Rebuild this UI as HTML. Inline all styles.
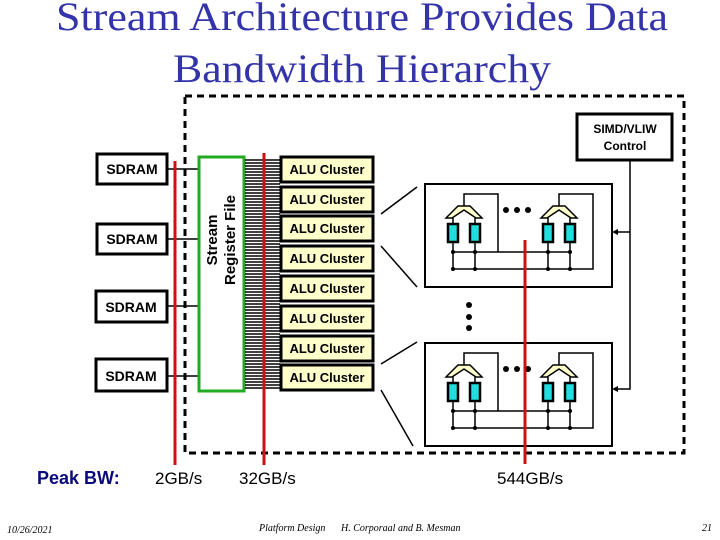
<!DOCTYPE html>
<html><head><meta charset="utf-8"><style>
html,body{margin:0;padding:0;background:#fff;}
svg{display:block;}
</style></head><body>
<svg width="720" height="540" viewBox="0 0 720 540" xmlns="http://www.w3.org/2000/svg">
<rect width="720" height="540" fill="#fff"/>
<g font-family="Liberation Serif, serif" fill="#3333aa" font-size="40">
<text x="362" y="30" text-anchor="middle" textLength="612" lengthAdjust="spacingAndGlyphs">Stream Architecture Provides Data</text>
<text x="362" y="82" text-anchor="middle" textLength="378" lengthAdjust="spacingAndGlyphs">Bandwidth Hierarchy</text>
</g>
<path d="M185 96 H684 V453 H185 Z" fill="none" stroke="#000" stroke-width="3" stroke-dasharray="7,5"/>
<rect x="577" y="114" width="95" height="46" fill="#fff" stroke="#000" stroke-width="3"/>
<g font-family="Liberation Sans, sans-serif" font-size="12" text-anchor="middle" font-weight="bold">
<text x="625" y="133">SIMD/VLIW</text><text x="625" y="150">Control</text></g>
<path d="M630 160 V389 H614 M630 232 H614" fill="none" stroke="#000" stroke-width="1.5"/>
<path d="M612 232 l6 -3 v6z M612 389 l6 -3 v6z" fill="#000"/>
<g stroke="#000" stroke-width="3" fill="#fff">
<rect x="97" y="154" width="70" height="30"/>
<rect x="97" y="224" width="70" height="30"/>
<rect x="96" y="291" width="71" height="31"/>
<rect x="96" y="359" width="71" height="32"/>
</g>
<g font-family="Liberation Sans, sans-serif" font-size="14" font-weight="bold" text-anchor="middle">
<text x="132" y="174">SDRAM</text><text x="132" y="244">SDRAM</text><text x="131" y="312">SDRAM</text><text x="131" y="381">SDRAM</text></g>
<path d="M167 169 H198 M167 239 H198 M167 306 H198 M167 376 H198" stroke="#000" stroke-width="1.5"/>
<rect x="199" y="157" width="45" height="234" fill="#fff" stroke="#22aa22" stroke-width="3"/>
<g font-family="Liberation Sans, sans-serif" font-size="15" font-weight="bold" text-anchor="middle" transform="translate(221,240) rotate(-90)">
<text x="0" y="-4">Stream</text><text x="0" y="14">Register File</text></g>
<g stroke="#000" stroke-width="1.5">
<path d="M245 160H280M245 163H280M245 166H280M245 169H280M245 172H280M245 175H280M245 178H280M245 181H280M245 184H280M245 187H280M245 190H280M245 193H280M245 196H280M245 199H280M245 202H280M245 205H280M245 208H280M245 211H280M245 214H280M245 217H280M245 220H280M245 223H280M245 226H280M245 229H280M245 232H280M245 235H280M245 238H280M245 241H280M245 244H280M245 247H280M245 250H280M245 253H280M245 256H280M245 259H280M245 262H280M245 265H280M245 268H280M245 271H280M245 274H280M245 277H280M245 280H280M245 283H280M245 286H280M245 289H280M245 292H280M245 295H280M245 298H280M245 301H280M245 304H280M245 307H280M245 310H280M245 313H280M245 316H280M245 319H280M245 322H280M245 325H280M245 328H280M245 331H280M245 334H280M245 337H280M245 340H280M245 343H280M245 346H280M245 349H280M245 352H280M245 355H280M245 358H280M245 361H280M245 364H280M245 367H280M245 370H280M245 373H280M245 376H280M245 379H280M245 382H280M245 385H280M245 388H280"/>
</g>
<g stroke="#000" stroke-width="3" fill="#ffffcc">
<rect x="281" y="157" width="92" height="25"/><rect x="281" y="187" width="92" height="25"/>
<rect x="281" y="216" width="92" height="25"/><rect x="281" y="246" width="92" height="25"/>
<rect x="281" y="276" width="92" height="25"/><rect x="281" y="306" width="92" height="25"/>
<rect x="281" y="336" width="92" height="25"/><rect x="281" y="365" width="92" height="25"/>
</g>
<g font-family="Liberation Sans, sans-serif" font-size="13" font-weight="bold" text-anchor="middle">
<text x="327" y="174">ALU Cluster</text><text x="327" y="204">ALU Cluster</text>
<text x="327" y="233">ALU Cluster</text><text x="327" y="263">ALU Cluster</text>
<text x="327" y="293">ALU Cluster</text><text x="327" y="323">ALU Cluster</text>
<text x="327" y="353">ALU Cluster</text><text x="327" y="382">ALU Cluster</text>
</g>
<path d="M381 214 L417 187 M381 246 L417 287 M381 364 L417 342 M381 390 L413 446" stroke="#000" stroke-width="1.5"/>
<g fill="#000"><circle cx="469" cy="305" r="3"/><circle cx="469" cy="317" r="3"/><circle cx="469" cy="328" r="3"/></g>
<defs>
<g id="cl">
<rect x="425" y="184" width="187" height="103" fill="#fff" stroke="#000" stroke-width="2"/>
<path d="M464 208 V194 H498 V252 M453 252 H571 M453 269 H593 V194 H559 V208 M453 242 V269 M475 242 V269 M548 242 V269 M570 242 V269" fill="none" stroke="#000" stroke-width="1.5"/>
<path d="M446 218 L458 206 H470 L482 218 H476 L464 210 L452 218 Z" fill="#ffffcc" stroke="#000" stroke-width="1.5"/>
<path d="M541 218 L553 206 H565 L577 218 H571 L559 210 L547 218 Z" fill="#ffffcc" stroke="#000" stroke-width="1.5"/>
<g fill="#22dddd" stroke="#000" stroke-width="2.5">
<rect x="448" y="224" width="10" height="18"/><rect x="470" y="224" width="10" height="18"/>
<rect x="543" y="224" width="10" height="18"/><rect x="565" y="224" width="10" height="18"/></g>
<path d="M453 218 V224 M475 218 V224 M548 218 V224 M570 218 V224" stroke="#000" stroke-width="1.5"/>
<g fill="#000"><circle cx="506" cy="210" r="3"/><circle cx="517" cy="210" r="3"/><circle cx="528" cy="210" r="3"/>
<circle cx="453" cy="252" r="2"/><circle cx="475" cy="252" r="2"/><circle cx="548" cy="252" r="2"/><circle cx="570" cy="252" r="2"/>
<circle cx="453" cy="269" r="2"/><circle cx="475" cy="269" r="2"/><circle cx="548" cy="269" r="2"/><circle cx="570" cy="269" r="2"/></g>
</g></defs>
<use href="#cl"/>
<use href="#cl" transform="translate(0,159)"/>
<g stroke="#cc1111" stroke-width="3">
<path d="M175 161 V465 M264 153 V465 M525 240 V464"/></g>
<text x="37" y="484" font-family="Liberation Sans, sans-serif" font-size="18" font-weight="bold" fill="#0a0a7a">Peak BW:</text>
<g font-family="Liberation Sans, sans-serif" font-size="17">
<text x="155" y="484">2GB/s</text><text x="239" y="484">32GB/s</text><text x="497" y="484">544GB/s</text></g>
<g font-family="Liberation Serif, serif" font-size="10" font-style="italic">
<text x="7" y="533">10/26/2021</text><text x="259" y="531">Platform Design</text>
<text x="341" y="531">H. Corporaal and B. Mesman</text><text x="702" y="531">21</text></g>
</svg>
</body></html>
